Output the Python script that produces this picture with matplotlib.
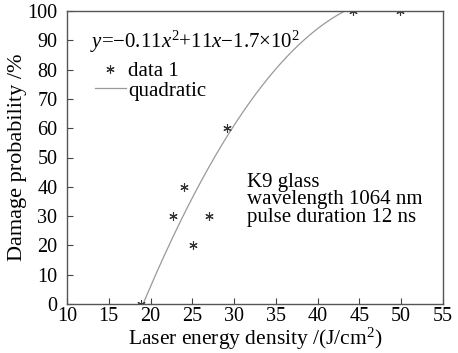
import numpy as np
import matplotlib.pyplot as plt
from matplotlib.lines import Line2D

plt.rcParams['font.family'] = ['Liberation Serif', 'DejaVu Serif']
plt.rcParams['mathtext.fontset'] = 'custom'
plt.rcParams['mathtext.rm'] = 'Liberation Serif'
plt.rcParams['mathtext.it'] = 'Liberation Serif:italic'

# measured data
energy = [18.9, 22.7, 24.0, 25.1, 27.0, 29.1, 44.2, 49.8]
prob = [0, 30, 40, 20, 30, 60, 100, 100]

# quadratic fit as printed on the chart
coef = [-0.11, 11, -170]
xf = np.linspace(min(energy), max(energy), 300)
yf = np.polyval(coef, xf)

fig = plt.figure(figsize=(4.58, 3.53), dpi=100)
ax = fig.add_axes([67 / 458, 1 - 304 / 353, 376 / 458, 293 / 353])

ax.plot(xf, yf, color="#999999", lw=0.9)
ax.plot(energy, prob, ls="none", marker=(6, 2, 0), ms=6, mew=0.8, color="#333333")

ax.set_xlim(10, 55)
ax.set_ylim(0, 100)
ax.set_xticks(np.arange(10, 56, 5))
ax.set_yticks(np.arange(0, 101, 10))
ax.tick_params(direction="in", length=4, width=0.8, labelsize=14.5,
               color="#444444")
ax.tick_params(axis="x", pad=2)
ax.tick_params(axis="y", pad=7)
for s in ax.spines.values():
    s.set_color("#555555")
    s.set_linewidth(1.0)

ax.set_xlabel("Laser energy density /(J/cm$^2$)", fontsize=15.5, labelpad=0)
ax.set_ylabel("Damage probability /%", fontsize=16, labelpad=0)

ax.text(12.7, 87.5, r"$y$=$-$0.11$x^2$+11$x$$-$1.7$\times$10$^2$", fontsize=15)

handles = [Line2D([], [], ls="none", marker=(6, 2, 0), ms=6, mew=0.8, color="#333333"),
           Line2D([], [], color="#999999", lw=0.9)]
ax.legend(handles, ["data 1", "quadratic"], loc="upper left",
          bbox_to_anchor=(0.04, 0.87), frameon=False, fontsize=15,
          handlelength=1.5, handletextpad=0.1, labelspacing=0.0,
          borderpad=0.1)

ax.text(31.5, 28, "K9 glass\nwavelength 1064 nm\npulse duration 12 ns",
        fontsize=15, linespacing=0.9)

fig.savefig("out.png", dpi=100)
